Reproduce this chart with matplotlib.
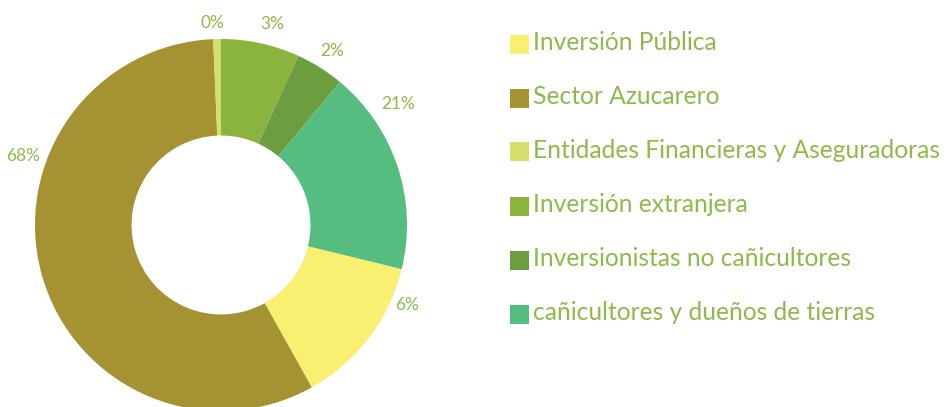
import matplotlib
matplotlib.use("Agg")
from matplotlib import pyplot as plt
from matplotlib.patches import Rectangle
import numpy as np

# Data
categories = ["Inversión Pública", "Sector Azucarero", "Entidades Financieras y Aseguradoras",
              "Inversión extranjera", "Inversionistas no cañicultores",
              "cañicultores y dueños de tierras"]
# slice sizes as drawn in the picture (share of the ring)
slice_sizes = [13.08, 57.44, 0.64, 6.86, 4.22, 17.75]
# printed labels
slice_labels = ["6%", "68%", "0%", "3%", "2%", "21%"]
colors = ["#F9EF71", "#A59233", "#D5E06C", "#8BB43F", "#6C9E40", "#56BD80"]
text_color = "#8DBA4A"

# label placement (degrees clockwise from top), radius in pie units
label_angles = [113.3, -70.8, -2.55, 14.2, 32.5, 55.6]
label_radius = [1.089, 1.127, 1.087, 1.115, 1.11, 1.153]

W, H = 948, 407
fig = plt.figure(figsize=(W / 100, H / 100), dpi=100)

# donut
cx, cy, r = 221, 225, 186
ax = fig.add_axes([(cx - r) / W, (H - cy - r) / H, 2 * r / W, 2 * r / H])
ax.pie(slice_sizes, colors=colors, startangle=90 - 103.7, counterclock=False,
       radius=1, wedgeprops=dict(width=0.519, linewidth=0))
ax.set_xlim(-1, 1)
ax.set_ylim(-1, 1)
ax.set_aspect("equal")
ax.axis("off")

for lab, ang, rr in zip(slice_labels, label_angles, label_radius):
    a = np.deg2rad(ang)
    ax.text(rr * np.sin(a), rr * np.cos(a), lab, ha="center", va="center",
            fontsize=12.5, color=text_color, family="Lato", clip_on=False)

# legend
for i, (cat, col) in enumerate(zip(categories, colors)):
    y = 44 + 54 * i
    fig.patches.append(Rectangle((510 / W, 1 - (y + 9.5) / H), 19 / W, 19 / H,
                                 transform=fig.transFigure, color=col, linewidth=0))
    fig.text(533 / W, 1 - (y + 6) / H, cat, ha="left", va="baseline",
             fontsize=17.7, color=text_color, family="Lato")

fig.savefig("out.png", dpi=100)
